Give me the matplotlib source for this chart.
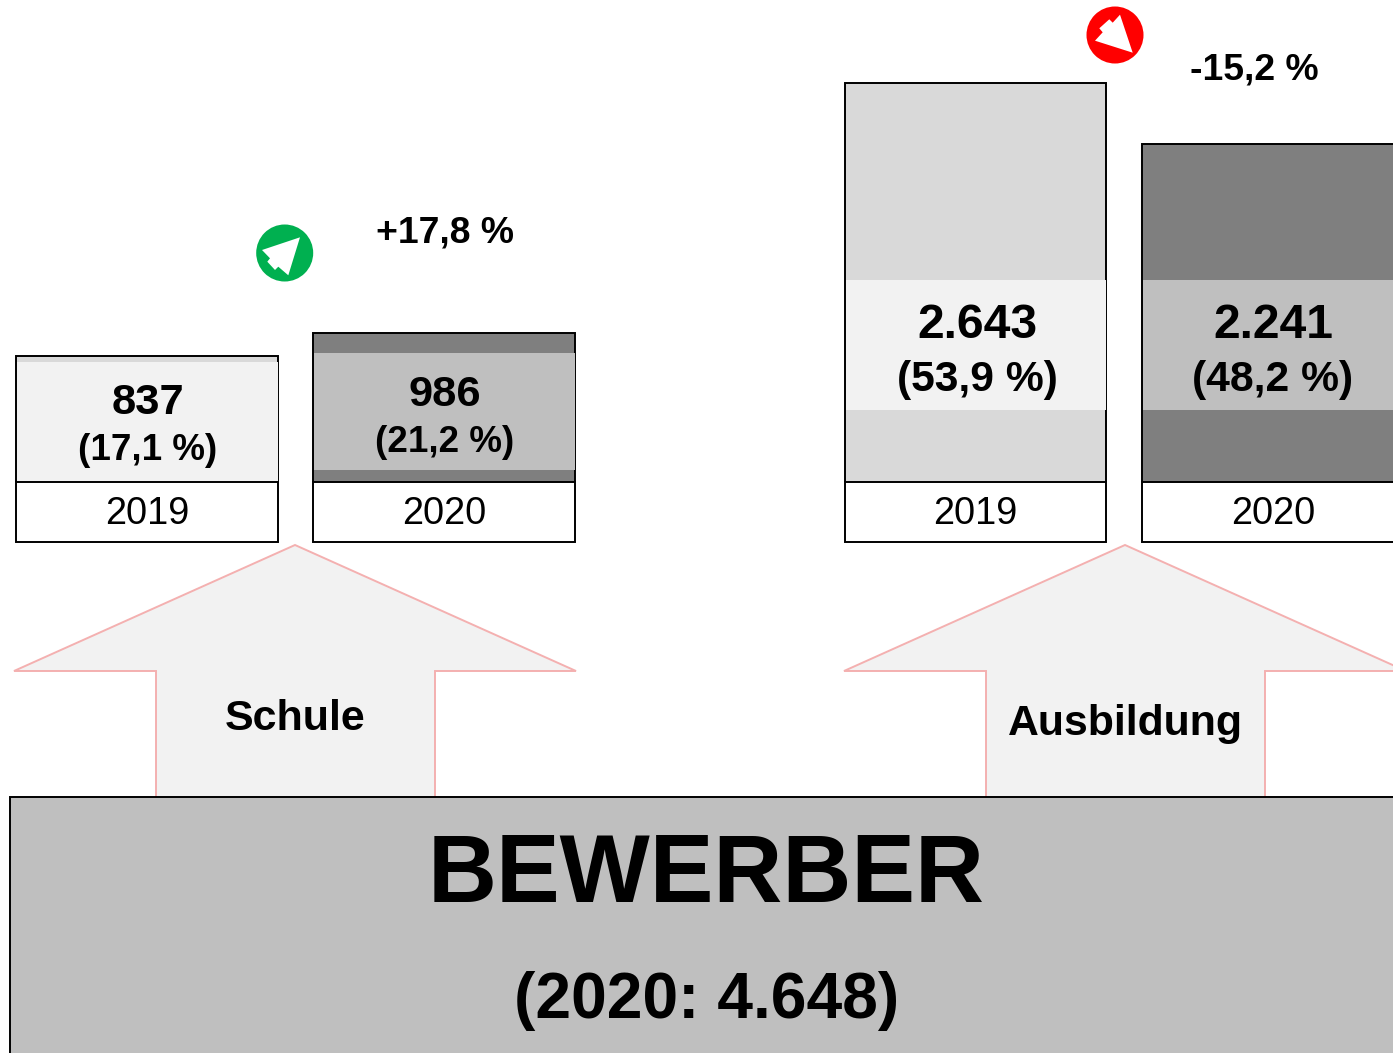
import matplotlib
matplotlib.use('Agg')
import matplotlib.pyplot as plt
from matplotlib.patches import Polygon, Rectangle, Circle

plt.rcParams['font.family'] = ['Liberation Sans', 'DejaVu Sans']

# values of the four bars
years = ['2019', '2020', '2019', '2020']
values = [837, 986, 2643, 2241]
shares = ['(17,1 %)', '(21,2 %)', '(53,9 %)', '(48,2 %)']
value_labels = ['837', '986', '2.643', '2.241']
groups = ['Schule', 'Ausbildung']
changes = ['+17,8 %', '-15,2 %']
total_title = 'BEWERBER'
total_label = '(2020: 4.648)'

W, H = 1393, 1053
PX_PER_VALUE = 399 / 2643
BASE_Y = 482

bar_left = [16, 313, 845, 1142]
bar_right = [278, 575, 1106, 1404]
bar_colors = ['#d9d9d9', '#7f7f7f', '#d9d9d9', '#7f7f7f']
band_colors = ['#f2f2f2', '#bfbfbf', '#f2f2f2', '#bfbfbf']
band_top = [362, 353, 280, 280]
band_bottom = [481, 470, 410, 410]
label_y1 = [398, 390, 320, 320]
label_y2 = [446, 438, 375, 375]
label_x = [148, 445, 977, 1273]
year_x = [147, 444, 975.5, 1273]
value_size = [31.3, 31.3, 34.6, 34.6]
share_size = [26.5, 26.5, 30.7, 30.7]

fig = plt.figure(figsize=(W / 100, H / 100), dpi=100)

# axes in pixel coordinates of the picture
ax = fig.add_axes([0, 0, 1, 1])
ax.set_xlim(0, W)
ax.set_ylim(H, 0)
ax.axis('off')

# bars get their own axes, so the height comes from the value
bar_ax = fig.add_axes([0, 1 - BASE_Y / H, 1, BASE_Y / H])
bar_ax.set_xlim(0, W)
bar_ax.set_ylim(0, BASE_Y / PX_PER_VALUE)
bar_ax.axis('off')
bar_ax.patch.set_alpha(0)

for i in range(4):
    bar_ax.bar(bar_left[i], values[i], width=bar_right[i] - bar_left[i], align='edge',
               color=bar_colors[i], edgecolor='black', linewidth=1.4, zorder=1)
    # lighter band behind the numbers
    bar_ax.add_patch(Rectangle((bar_left[i] + 1, (BASE_Y - band_bottom[i]) / PX_PER_VALUE),
                               bar_right[i] - bar_left[i] - 1,
                               (band_bottom[i] - band_top[i]) / PX_PER_VALUE,
                               facecolor=band_colors[i], edgecolor='none', zorder=2))
    bar_ax.text(label_x[i], (BASE_Y - label_y1[i]) / PX_PER_VALUE, value_labels[i], ha='center',
                va='center_baseline', fontsize=value_size[i], fontweight='bold', color='black', zorder=3)
    bar_ax.text(label_x[i], (BASE_Y - label_y2[i]) / PX_PER_VALUE, shares[i], ha='center',
                va='center_baseline', fontsize=share_size[i], fontweight='bold', color='black', zorder=3)
    # year boxes under the bars
    ax.add_patch(Rectangle((bar_left[i], 482), bar_right[i] - bar_left[i], 60, facecolor='white',
                           edgecolor='black', linewidth=1.4))
    ax.text(year_x[i], 510.5, years[i], ha='center', va='center_baseline', fontsize=27.3, color='black')

# big arrows
arrow_tips = [295, 1125]
arrow_labels_y = [715, 719.5]
name_size = [31, 30.8]
name_x = [295, 1125.5]
for k in range(2):
    tip = arrow_tips[k]
    ax.add_patch(Polygon([(tip, 545), (tip - 281, 671), (tip - 139, 671), (tip - 139, 800),
                          (tip + 140, 800), (tip + 140, 671), (tip + 281, 671)],
                         closed=True, facecolor='#f2f2f2', edgecolor='#f4b0b0', linewidth=1.4))
    ax.text(name_x[k], arrow_labels_y[k], groups[k], ha='center', va='center_baseline',
            fontsize=name_size[k], fontweight='bold', color='black')

# bottom box
ax.add_patch(Rectangle((10, 797), 1400, 270, facecolor='#bfbfbf', edgecolor='black', linewidth=1.4, zorder=3))
ax.text(706, 867, total_title, ha='center', va='center_baseline', fontsize=68.8, fontweight='bold',
        color='black', zorder=4)
ax.text(706.5, 994.5, total_label, ha='center', va='center_baseline', fontsize=46.2, fontweight='bold',
        color='black', zorder=4)

# trend icons
ax.add_patch(Circle((284.7, 253), 28.5, facecolor='#00b050', edgecolor='none'))
ax.add_patch(Polygon([(300, 237.3), (262, 250), (270, 258.3), (267.3, 261.7), (275, 270),
                      (278.3, 266.7), (288.3, 275.3)], closed=True, facecolor='white', edgecolor='none'))
ax.add_patch(Circle((1115, 35), 28.5, facecolor='#ff0000', edgecolor='none'))
ax.add_patch(Polygon([(1132.7, 52.7), (1095, 40.7), (1102.7, 32.3), (1099.3, 28.3), (1109.3, 19.3),
                      (1112.7, 22.7), (1120, 14.7)], closed=True, facecolor='white', edgecolor='none'))
ax.text(445.5, 229, changes[0], ha='center', va='center_baseline', fontsize=26.9, fontweight='bold', color='black')
ax.text(1254, 66, changes[1], ha='center', va='center_baseline', fontsize=26.9, fontweight='bold', color='black')

fig.savefig('out.png', dpi=100)
